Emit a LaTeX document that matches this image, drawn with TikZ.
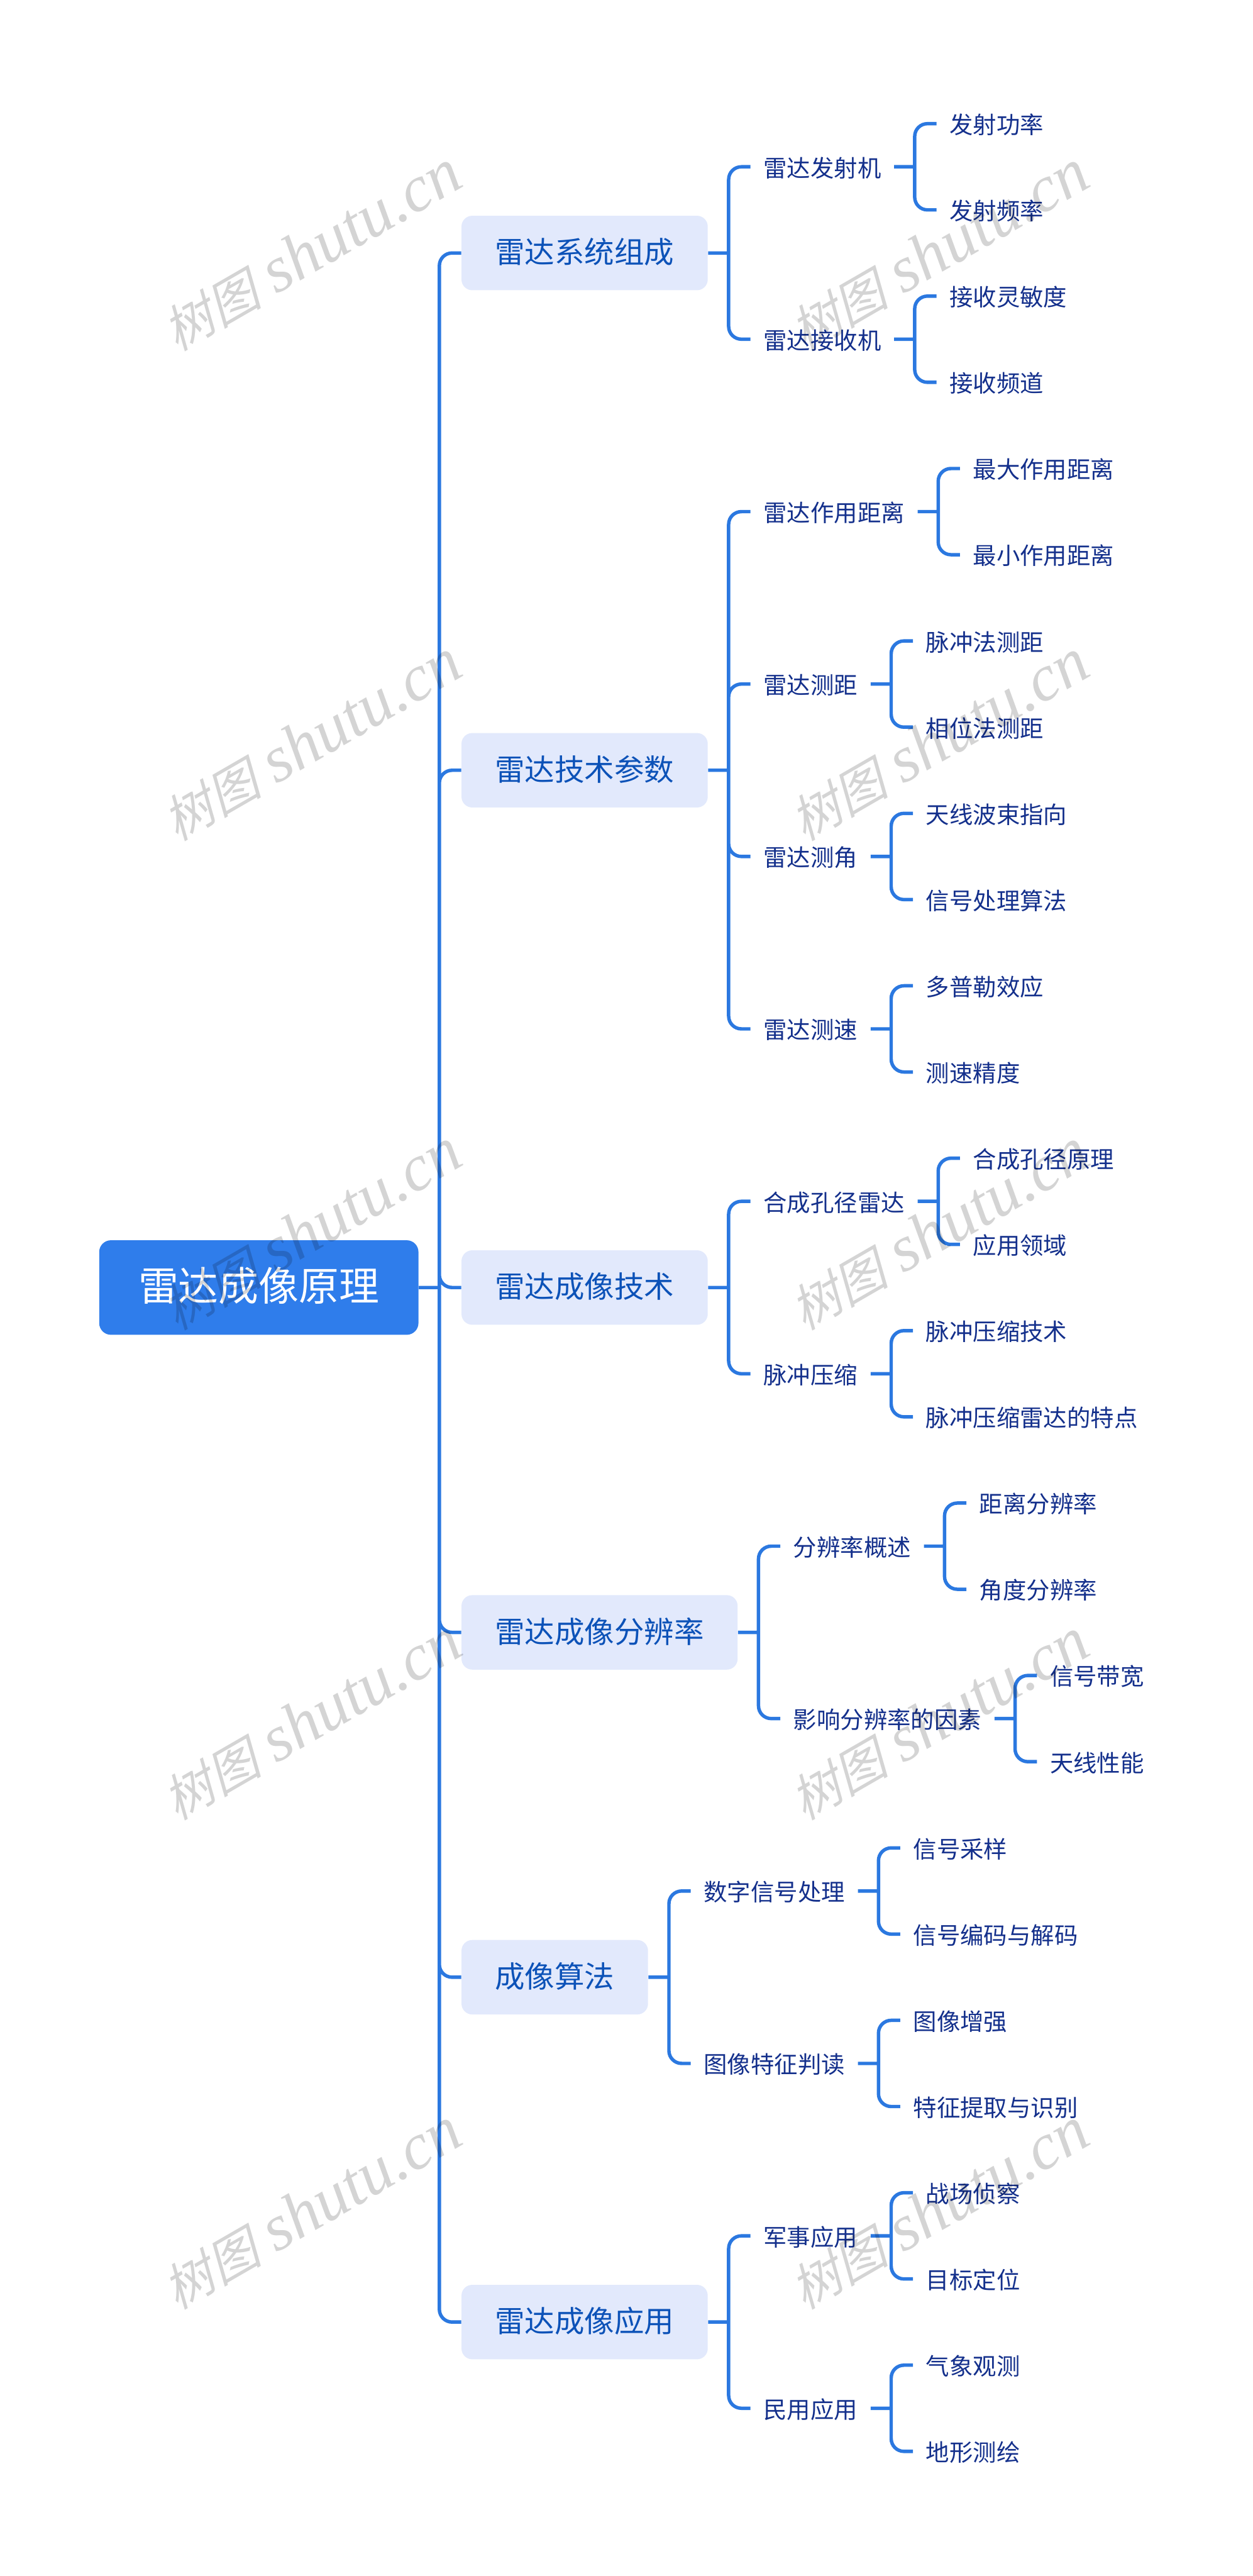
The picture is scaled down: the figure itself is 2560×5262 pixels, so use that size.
\documentclass[tikz,border=0pt]{standalone}
\usepackage{fontspec}
\setmainfont{Noto Sans CJK SC}
\newfontfamily\wmhan[FakeSlant=0.25]{Noto Sans CJK SC}
\newfontfamily\wmlatin{Liberation Serif}
\usetikzlibrary{positioning}
\definecolor{rootblue}{HTML}{2F7DEB}
\definecolor{linkblue}{HTML}{2B78E0}
\definecolor{paleblue}{HTML}{E2E9FC}
\definecolor{subtext}{HTML}{0C52B8}
\definecolor{navytext}{HTML}{14308C}
\tikzset
{
    rootnode/.style = {anchor=west, fill=rootblue, text=white, rounded corners=.24cm, inner xsep=.8cm, inner ysep=0pt, minimum height=1.93cm, text height=1.54em, text depth=0em, font=\fontsize{23.33pt}{28pt}\selectfont},
    subnode/.style  = {fill=paleblue, text=subtext, rounded corners=.22cm, inner xsep=.685cm, inner ysep=0pt, minimum height=1.52cm, text height=1.2em, text depth=0em, font=\fontsize{17.35pt}{21pt}\selectfont},
    textnode/.style = {text=navytext, inner xsep=.26cm, inner ysep=0pt, text height=1.16em, text depth=0em, font=\fontsize{13.66pt}{16pt}\selectfont},
    link/.style     = {draw=linkblue, line width=.07cm, rounded corners=.26cm},
    branch/.style   = {to path={(\tikztostart.east) -- ++(42,0) ++(0,0) |- (\tikztotarget.west)}},
    watermark/.style = {rotate=30, text=black, text opacity=.17, inner sep=0pt}
}
\newcommand{\wmtext}{{\fontsize{29pt}{36pt}\selectfont\wmhan 树图}\hspace{.3cm}{\fontsize{38pt}{44pt}\selectfont\wmlatin\itshape shutu.cn}}

\begin{document}
\begin{tikzpicture}[x=.01cm, y=-.01cm, node distance=.865cm]
    \path [use as bounding box, fill=white] (0,0) rectangle (2560,5262);

    \node [rootnode] (root) at (202,2630) {雷达成像原理};

    \node [subnode, right=of root, yshift=21.12cm] (comp) {雷达系统组成};
    \node [subnode, right=of root, yshift=10.56cm] (param) {雷达技术参数};
    \node [subnode, right=of root] (tech) {雷达成像技术};
    \node [subnode, right=of root, yshift=-7.04cm] (reso) {雷达成像分辨率};
    \node [subnode, right=of root, yshift=-14.08cm] (algo) {成像算法};
    \node [subnode, right=of root, yshift=-21.12cm] (appl) {雷达成像应用};

    \node [textnode, right=of comp, yshift=1.76cm] (tx) {雷达发射机};
    \node [textnode, right=of comp, yshift=-1.76cm] (rx) {雷达接收机};
    \node [textnode, right=of tx, yshift=.88cm] (txpower) {发射功率};
    \node [textnode, right=of tx, yshift=-.88cm] (txfreq) {发射频率};
    \node [textnode, right=of rx, yshift=.88cm] (rxsens) {接收灵敏度};
    \node [textnode, right=of rx, yshift=-.88cm] (rxchan) {接收频道};

    \node [textnode, right=of param, yshift=5.28cm] (range) {雷达作用距离};
    \node [textnode, right=of param, yshift=1.76cm] (dist) {雷达测距};
    \node [textnode, right=of param, yshift=-1.76cm] (angle) {雷达测角};
    \node [textnode, right=of param, yshift=-5.28cm] (speed) {雷达测速};
    \node [textnode, right=of range, yshift=.88cm] (maxrange) {最大作用距离};
    \node [textnode, right=of range, yshift=-.88cm] (minrange) {最小作用距离};
    \node [textnode, right=of dist, yshift=.88cm] (pulsedist) {脉冲法测距};
    \node [textnode, right=of dist, yshift=-.88cm] (phasedist) {相位法测距};
    \node [textnode, right=of angle, yshift=.88cm] (beam) {天线波束指向};
    \node [textnode, right=of angle, yshift=-.88cm] (sigalgo) {信号处理算法};
    \node [textnode, right=of speed, yshift=.88cm] (doppler) {多普勒效应};
    \node [textnode, right=of speed, yshift=-.88cm] (speedacc) {测速精度};

    \node [textnode, right=of tech, yshift=1.76cm] (sar) {合成孔径雷达};
    \node [textnode, right=of tech, yshift=-1.76cm] (pulse) {脉冲压缩};
    \node [textnode, right=of sar, yshift=.88cm] (sarprin) {合成孔径原理};
    \node [textnode, right=of sar, yshift=-.88cm] (sarfield) {应用领域};
    \node [textnode, right=of pulse, yshift=.88cm] (pulsetech) {脉冲压缩技术};
    \node [textnode, right=of pulse, yshift=-.88cm] (pulsefeat) {脉冲压缩雷达的特点};

    \node [textnode, right=of reso, yshift=1.76cm] (overview) {分辨率概述};
    \node [textnode, right=of reso, yshift=-1.76cm] (factor) {影响分辨率的因素};
    \node [textnode, right=of overview, yshift=.88cm] (distreso) {距离分辨率};
    \node [textnode, right=of overview, yshift=-.88cm] (anglereso) {角度分辨率};
    \node [textnode, right=of factor, yshift=.88cm] (bandwidth) {信号带宽};
    \node [textnode, right=of factor, yshift=-.88cm] (antenna) {天线性能};

    \node [textnode, right=of algo, yshift=1.76cm] (dsp) {数字信号处理};
    \node [textnode, right=of algo, yshift=-1.76cm] (interp) {图像特征判读};
    \node [textnode, right=of dsp, yshift=.88cm] (sampling) {信号采样};
    \node [textnode, right=of dsp, yshift=-.88cm] (coding) {信号编码与解码};
    \node [textnode, right=of interp, yshift=.88cm] (enhance) {图像增强};
    \node [textnode, right=of interp, yshift=-.88cm] (extract) {特征提取与识别};

    \node [textnode, right=of appl, yshift=1.76cm] (military) {军事应用};
    \node [textnode, right=of appl, yshift=-1.76cm] (civil) {民用应用};
    \node [textnode, right=of military, yshift=.88cm] (recon) {战场侦察};
    \node [textnode, right=of military, yshift=-.88cm] (target) {目标定位};
    \node [textnode, right=of civil, yshift=.88cm] (weather) {气象观测};
    \node [textnode, right=of civil, yshift=-.88cm] (terrain) {地形测绘};

    % connectors
    \draw [link] (root) to[branch] (comp) (root) to[branch] (param) (root) to[branch] (tech) (root) to[branch] (reso) (root) to[branch] (algo) (root) to[branch] (appl);

    \draw [link] (comp) to[branch] (tx) (comp) to[branch] (rx);
    \draw [link] (tx) to[branch] (txpower) (tx) to[branch] (txfreq);
    \draw [link] (rx) to[branch] (rxsens) (rx) to[branch] (rxchan);

    \draw [link] (param) to[branch] (range) (param) to[branch] (dist) (param) to[branch] (angle) (param) to[branch] (speed);
    \draw [link] (range) to[branch] (maxrange) (range) to[branch] (minrange);
    \draw [link] (dist) to[branch] (pulsedist) (dist) to[branch] (phasedist);
    \draw [link] (angle) to[branch] (beam) (angle) to[branch] (sigalgo);
    \draw [link] (speed) to[branch] (doppler) (speed) to[branch] (speedacc);

    \draw [link] (tech) to[branch] (sar) (tech) to[branch] (pulse);
    \draw [link] (sar) to[branch] (sarprin) (sar) to[branch] (sarfield);
    \draw [link] (pulse) to[branch] (pulsetech) (pulse) to[branch] (pulsefeat);

    \draw [link] (reso) to[branch] (overview) (reso) to[branch] (factor);
    \draw [link] (overview) to[branch] (distreso) (overview) to[branch] (anglereso);
    \draw [link] (factor) to[branch] (bandwidth) (factor) to[branch] (antenna);

    \draw [link] (algo) to[branch] (dsp) (algo) to[branch] (interp);
    \draw [link] (dsp) to[branch] (sampling) (dsp) to[branch] (coding);
    \draw [link] (interp) to[branch] (enhance) (interp) to[branch] (extract);

    \draw [link] (appl) to[branch] (military) (appl) to[branch] (civil);
    \draw [link] (military) to[branch] (recon) (military) to[branch] (target);
    \draw [link] (civil) to[branch] (weather) (civil) to[branch] (terrain);

    % watermarks lie over everything
    \node [watermark] (wmlefta) at (636,512) {\wmtext};
    \node [watermark] (wmleftb) at (636,1512) {\wmtext};
    \node [watermark] (wmleftc) at (636,2512) {\wmtext};
    \node [watermark] (wmleftd) at (636,3512) {\wmtext};
    \node [watermark] (wmlefte) at (636,4512) {\wmtext};
    \node [watermark] (wmrighta) at (1918,512) {\wmtext};
    \node [watermark] (wmrightb) at (1918,1512) {\wmtext};
    \node [watermark] (wmrightc) at (1918,2512) {\wmtext};
    \node [watermark] (wmrightd) at (1918,3512) {\wmtext};
    \node [watermark] (wmrighte) at (1918,4512) {\wmtext};
\end{tikzpicture}
\end{document}
